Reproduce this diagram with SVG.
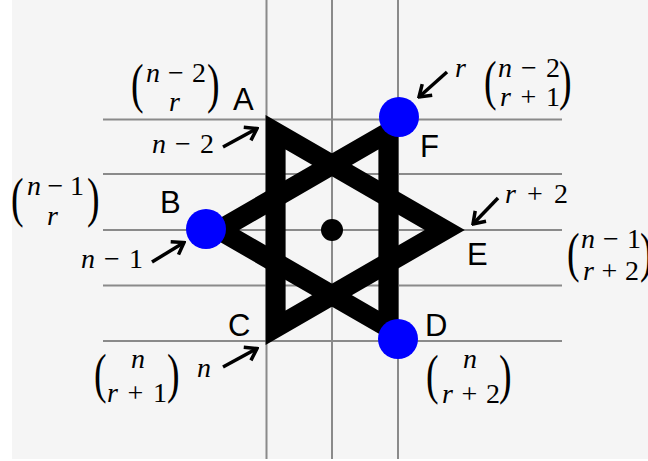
<svg xmlns="http://www.w3.org/2000/svg" width="648" height="461" viewBox="0 0 648 461">
<defs>
<style>
.grid{stroke:#8a8a8a;stroke-width:2;fill:none}
.star{fill:#000;fill-rule:evenodd}
.dot{fill:#0000ff}
.lbl{font-family:"Liberation Sans",Arial,sans-serif;font-size:31px;fill:#000}
.m{font-family:"Liberation Serif","Times New Roman",serif;font-size:28px;fill:#000}
.i{font-style:italic}
.p{font-family:"Liberation Serif","Times New Roman",serif;font-size:54px;fill:#000}
.arr{stroke:#000;stroke-width:3.5;fill:none;marker-end:url(#ah)}
</style>
<marker id="ah" markerUnits="userSpaceOnUse" viewBox="-14 -10 16 20" refX="0" refY="0" markerWidth="16" markerHeight="20" orient="auto">
<path d="M-11,-7.5 L0,0 L-11,7.5" fill="none" stroke="#000" stroke-width="3.5" stroke-linejoin="miter"/>
</marker>
</defs>
<rect x="0" y="0" width="648" height="461" fill="#ffffff"/>
<rect x="12" y="0" width="636" height="459" fill="#f5f5f5"/>
<g id="grid">
<line class="grid" x1="266.5" y1="0" x2="266.5" y2="459"/>
<line class="grid" x1="332" y1="0" x2="332" y2="459"/>
<line class="grid" x1="398" y1="0" x2="398" y2="459"/>
<line class="grid" x1="103" y1="119.5" x2="562" y2="119.5"/>
<line class="grid" x1="103" y1="174" x2="562" y2="174"/>
<line class="grid" x1="103" y1="230" x2="562" y2="230"/>
<line class="grid" x1="103" y1="285.5" x2="562" y2="285.5"/>
<line class="grid" x1="103" y1="341" x2="562" y2="341"/>
</g>
<g id="star">
<path class="star" d="M265.6,115 L464.8,230 L265.6,345 Z M285.6,149.6 L285.6,310.4 L424.8,230 Z"/>
<path class="star" d="M398.4,115 L199.2,230 L398.4,345 Z M378.4,149.6 L378.4,310.4 L239.2,230 Z"/>
<circle cx="332" cy="230" r="11" fill="#000"/>
</g>
<g id="connectors">
<line class="arr" x1="223" y1="147" x2="257" y2="128.5"/>
<line class="arr" x1="152" y1="262" x2="184" y2="242.5"/>
<line class="arr" x1="223" y1="367" x2="257" y2="348.5"/>
<line class="arr" x1="447" y1="72" x2="419" y2="97"/>
<line class="arr" x1="498" y1="198" x2="473" y2="224"/>
</g>
<g id="node-A">
<text class="lbl" x="233" y="110">A</text>
<text class="p" transform="translate(131,101.5) scale(0.7,1)">(</text>
<text class="m" x="146" y="82" textLength="60" lengthAdjust="spacing"><tspan class="i">n</tspan>−2</text>
<text class="m i" x="169" y="111">r</text>
<text class="p" transform="translate(207,101.5) scale(0.7,1)">)</text>
<text class="m" x="152" y="153" textLength="62" lengthAdjust="spacing"><tspan class="i">n</tspan> − 2</text>
</g>
<g id="node-B">
<circle class="dot" cx="206" cy="229" r="20"/>
<text class="lbl" x="160" y="213">B</text>
<text class="p" transform="translate(11,215.5) scale(0.7,1)">(</text>
<text class="m" x="27" y="195" textLength="57" lengthAdjust="spacing"><tspan class="i">n</tspan>−1</text>
<text class="m i" x="47" y="225">r</text>
<text class="p" transform="translate(87,215.5) scale(0.7,1)">)</text>
<text class="m" x="81" y="268" textLength="62" lengthAdjust="spacing"><tspan class="i">n</tspan> − 1</text>
</g>
<g id="node-C">
<text class="lbl" x="228" y="336">C</text>
<text class="p" transform="translate(94,391.5) scale(0.7,1)">(</text>
<text class="m i" x="131" y="368">n</text>
<text class="m" x="107" y="402" textLength="60" lengthAdjust="spacing"><tspan class="i">r</tspan>+1</text>
<text class="p" transform="translate(167,391.5) scale(0.7,1)">)</text>
<text class="m i" x="197" y="377">n</text>
</g>
<g id="node-D">
<circle class="dot" cx="398" cy="339" r="20"/>
<text class="lbl" x="425" y="336">D</text>
<text class="p" transform="translate(426,393) scale(0.7,1)">(</text>
<text class="m i" x="463" y="368">n</text>
<text class="m" x="442" y="403" textLength="58" lengthAdjust="spacing"><tspan class="i">r</tspan>+2</text>
<text class="p" transform="translate(499,393) scale(0.7,1)">)</text>
</g>
<g id="node-E">
<text class="lbl" x="467" y="265">E</text>
<text class="m" x="505" y="203" textLength="63" lengthAdjust="spacing"><tspan class="i">r</tspan> + 2</text>
<text class="p" transform="translate(567,270.5) scale(0.7,1)">(</text>
<text class="m" x="581" y="248" textLength="60" lengthAdjust="spacing"><tspan class="i">n</tspan>−1</text>
<text class="m" x="583" y="280" textLength="56" lengthAdjust="spacing"><tspan class="i">r</tspan>+2</text>
<text class="p" transform="translate(640,270.5) scale(0.7,1)">)</text>
</g>
<g id="node-F">
<circle class="dot" cx="399" cy="117" r="20"/>
<text class="lbl" x="420" y="157">F</text>
<text class="m i" x="455" y="77">r</text>
<text class="p" transform="translate(484,98.5) scale(0.7,1)">(</text>
<text class="m" x="498" y="77" textLength="62" lengthAdjust="spacing"><tspan class="i">n</tspan>−2</text>
<text class="m" x="500" y="106" textLength="60" lengthAdjust="spacing"><tspan class="i">r</tspan>+1</text>
<text class="p" transform="translate(559,98.5) scale(0.7,1)">)</text>
</g>
</svg>
